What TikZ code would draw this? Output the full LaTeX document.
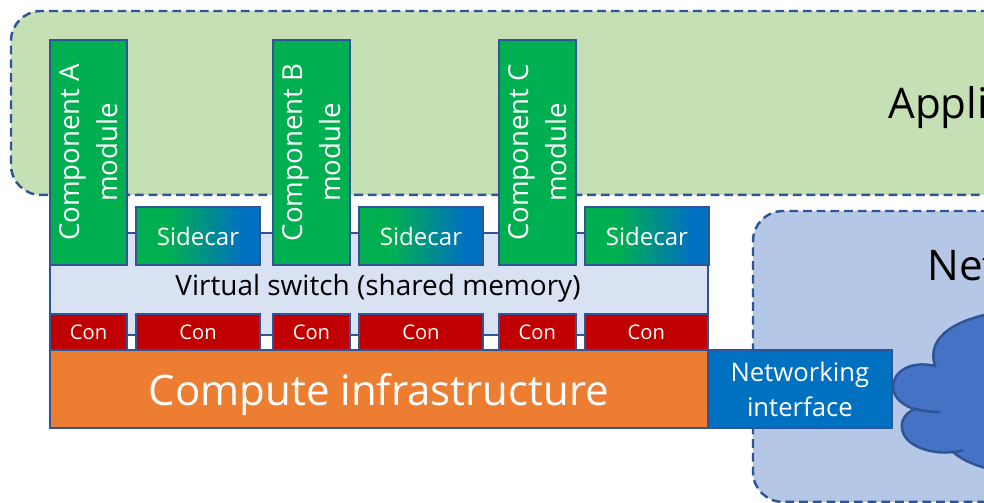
\documentclass[tikz,border=0pt]{standalone}
\usepackage{fontspec}
\setmainfont{Open Sans}
\usetikzlibrary{positioning}
\definecolor{edgeblue}{HTML}{2F5597}
\definecolor{appgreen}{HTML}{C5E0B4}
\definecolor{netblue}{HTML}{B4C7E7}
\definecolor{switchblue}{HTML}{D9E2F3}
\definecolor{modgreen}{HTML}{00B050}
\definecolor{ifblue}{HTML}{0070C0}
\definecolor{conred}{HTML}{C00000}
\definecolor{infraorange}{HTML}{ED7D31}
\definecolor{cloudblue}{HTML}{4472C4}
\pgfdeclarehorizontalshading{sidegrad}{100bp}{color(0bp)=(modgreen); color(38bp)=(modgreen); color(68bp)=(ifblue); color(100bp)=(ifblue)}
\tikzset{
	box/.style={draw=edgeblue, line width=1.4pt, inner sep=0pt, outer sep=0pt, align=center},
	zone/.style={box, dash pattern=on 5pt off 2.8pt, rounded corners=0.6cm},
	modbox/.style={box, fill=modgreen, text=white, rotate=90, minimum width=4.5cm, minimum height=1.54cm, font=\fontsize{15.7}{21.5}\selectfont},
	sidebox/.style={box, shading=sidegrad, text=white, minimum width=2.48cm, minimum height=1.16cm, font=\fontsize{13.7}{15}\selectfont},
	conbox/.style={box, fill=conred, text=white, minimum height=0.72cm, font=\fontsize{11.5}{13}\selectfont},
	zonelabel/.style={anchor=west, inner sep=0pt, font=\fontsize{24}{28}\selectfont},
}
\begin{document}
\begin{tikzpicture}[x=0.02cm, y=-0.02cm]
	\useasboundingbox (0,0) rectangle (984,503);
	\clip (0,0) rectangle (984,503);
	
	% zones run off the right edge
	\node[zone, fill=appgreen, minimum width=21cm, minimum height=3.68cm, anchor=north west] (appzone) at (11,11) {};
	\node[zone, fill=netblue, minimum width=10cm, minimum height=5.82cm, anchor=north west] (netzone) at (753,211) {};
	\node[zonelabel] (applabel) at (888,108) {Appli};
	\node[zonelabel] (netlabel) at (927,266) {Net};
	
	\node[box, fill=switchblue, minimum width=13.16cm, minimum height=2.04cm, anchor=north west] (vswitch) at (50,233) {};
	\node[font=\fontsize{15.9}{18}\selectfont, inner sep=0pt] (vlabel) at (378,288) {Virtual switch (shared memory)};
	
	\node[modbox] (modA) at (88.5,152.5) {Component A\\module};
	\node[modbox] (modB) at (311.5,152.5) {Component B\\module};
	\node[modbox] (modC) at (537.5,152.5) {Component C\\module};
	
	\node[sidebox] (side1) at (198,236) {Sidecar};
	\node[sidebox, right=1.98cm of side1] (side2) {Sidecar};
	\node[sidebox, right=2.04cm of side2] (side3) {Sidecar};
	
	\node[conbox, minimum width=1.54cm] (con1) at (88.5,332) {Con};
	\node[conbox, minimum width=2.48cm, right=0.18cm of con1] (con2) {Con};
	\node[conbox, minimum width=1.54cm, right=0.26cm of con2] (con3) {Con};
	\node[conbox, minimum width=2.48cm, right=0.18cm of con3] (con4) {Con};
	\node[conbox, minimum width=1.54cm, right=0.32cm of con4] (con5) {Con};
	\node[conbox, minimum width=2.46cm, right=0.18cm of con5] (con6) {Con};
	
	\node[box, fill=infraorange, text=white, minimum width=13.16cm, minimum height=1.56cm, text depth=0pt, anchor=north west, font=\fontsize{23.9}{28}\selectfont] (infra) at (50,350) {Compute infrastructure};
	
	% cloud, open towards the right edge
	\draw[edgeblue, line width=1.4pt, fill=cloudblue] (1000,312) .. controls (960,318) and (925,335) .. (935,366)
		.. controls (910,360) and (893,372) .. (893,387)
		.. controls (893,398) and (905,407) .. (915,409)
		.. controls (902,414) and (901,425) .. (902,428)
		.. controls (903,445) and (930,455) .. (953,452)
		.. controls (962,460) and (975,466) .. (1000,472) -- cycle;
	\draw[edgeblue, line width=1.4pt] (915,409) .. controls (923,411) and (932,412) .. (940,412);
	\draw[edgeblue, line width=1.4pt] (953,452) .. controls (957,452) and (960,451) .. (963,450);
	
	\node[box, fill=ifblue, text=white, minimum width=3.68cm, minimum height=1.56cm, right=0cm of infra, font=\fontsize{14.6}{20}\selectfont] (netif) {Networking\\interface};
\end{tikzpicture}
\end{document}
